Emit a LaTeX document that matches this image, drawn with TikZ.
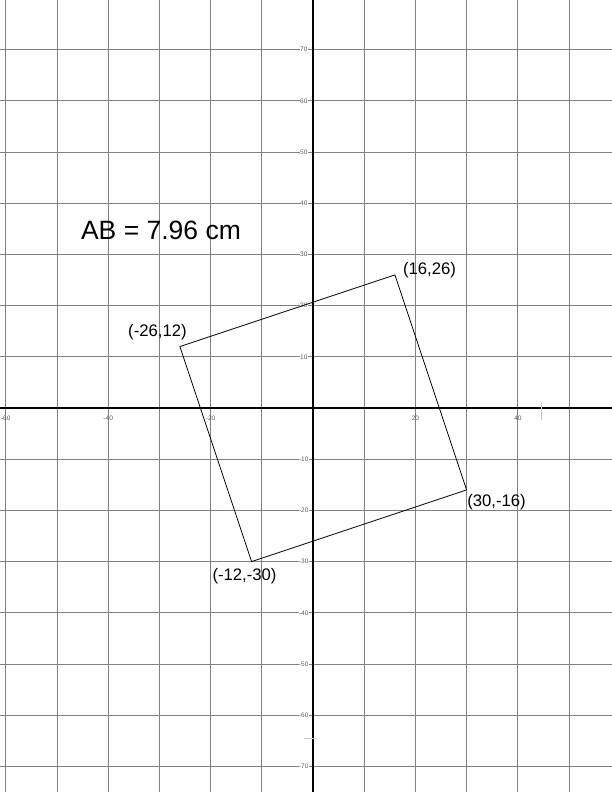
\documentclass[tikz,border=0pt]{standalone}
\usepackage{fontspec}
\setmainfont{Liberation Sans}
\usetikzlibrary{positioning,calc}
\definecolor{GridGray}  {RGB}{128,128,128}
\definecolor{LabelGray} {RGB}{ 90, 90, 90}
\definecolor{FaintGray} {RGB}{200,200,200}
\tikzset{
  %% 网格与坐标轴
  gridline/.style={draw=GridGray,line width=0.9pt},
  axisline/.style={draw=black,line width=1.3pt},
  faintmark/.style={draw=FaintGray,line width=0.8pt},
  %% 刻度数字
  ylab/.style={font=\fontsize{6.5}{7}\selectfont,text=LabelGray,
               fill=white,inner sep=0.4pt},
  xlab/.style={font=\fontsize{6.5}{7}\selectfont,text=LabelGray,
               inner sep=0.4pt},
  %% 顶点标注与长度标注
  vlab/.style={font=\fontsize{16.7}{20}\selectfont,inner sep=0pt},
  ablab/.style={font=\fontsize{26.5}{30}\selectfont,inner sep=0pt},
  sqline/.style={draw=black,line width=0.8pt,line join=miter},
}
\begin{document}
\begin{tikzpicture}[x=5.12pt,y=5.12pt]
        \useasboundingbox[fill=white] (-61.13,-75) rectangle (58.4,79.69);

        %% 网格
        \foreach \gx in {-60,-50,...,50}
          \draw[gridline] (\gx,-75) -- (\gx,79.69);
        \foreach \gy in {-70,-60,...,70}
          \draw[gridline] (-61.13,\gy) -- (58.4,\gy);

        %% 坐标轴
        \draw[axisline] (-61.13,0) -- (58.4,0);
        \draw[axisline] (0,-75) -- (0,79.69);

        %% 刻度数字
        \foreach \gy in {-70,-60,...,-10,10,20,...,70}
          \node[ylab] (Y\gy) at (-1.8,\gy) {\gy};
        \foreach \gx in {-60,-40,-20,20,40}
          \node[xlab] (X\gx) at (\gx,-2) {\gx};

        %% 零散小记号
        \draw[faintmark] (44.7,1) -- (44.7,-2.3);
        \draw[faintmark] (-1.76,-64.45) -- (0.78,-64.45);

        %% 正方形顶点
        \coordinate (P1) at (-26,12);
        \coordinate (P2) at (16,26);
        \coordinate (P3) at (30,-16);
        \coordinate (P4) at (-12,-30);
        \draw[sqline] (P1) -- (P2) -- (P3) -- (P4) -- cycle;

        \node[vlab] (L1) at ([shift={(-22.4pt,14.6pt)}]P1) {(-26,12)};
        \node[vlab] (L2) at ([shift={(34.6pt,4.4pt)}]P2) {(16,26)};
        \node[vlab] (L3) at ([shift={(30pt,-11.8pt)}]P3) {(30,-16)};
        \node[vlab] (L4) at ([shift={(-7pt,-14.4pt)}]P4) {(-12,-30)};

        \node[ablab] (AB) at (-29.69,34.77) {AB = 7.96 cm};
      \end{tikzpicture}
\end{document}
